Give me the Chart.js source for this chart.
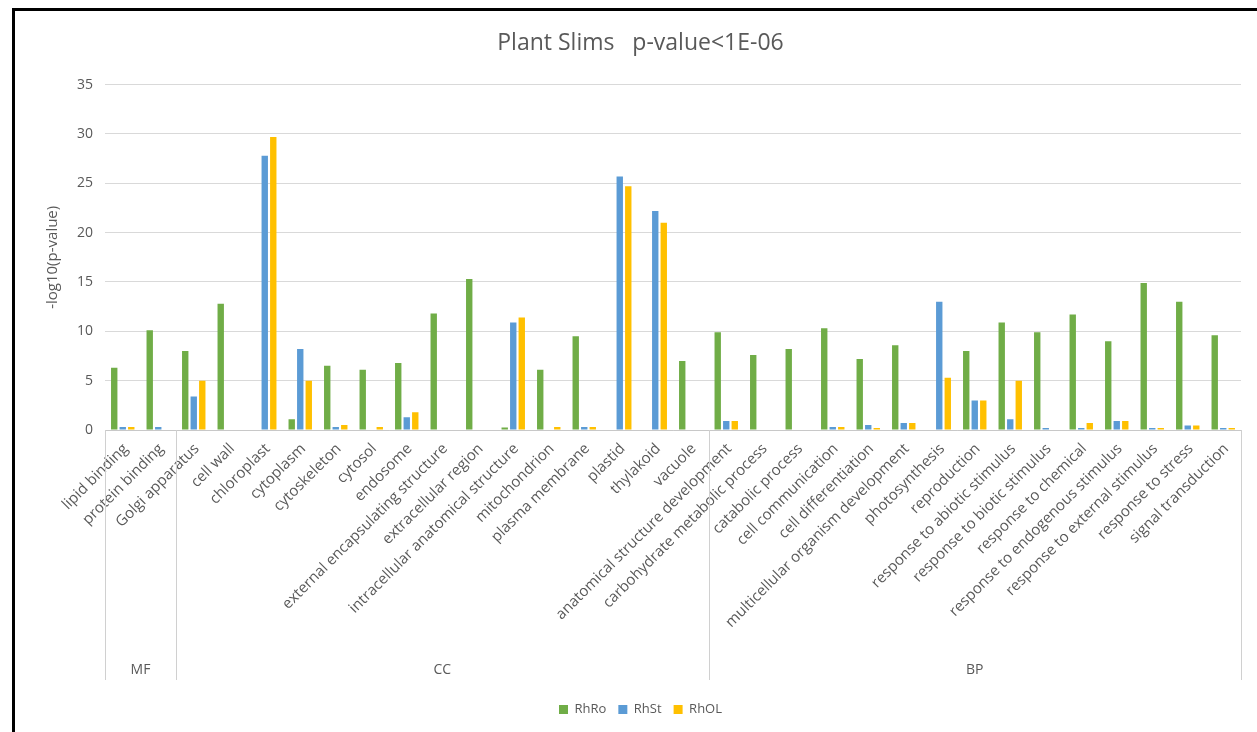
<!DOCTYPE html>
<html lang="en">
<head>
    <meta charset="UTF-8">
    <title>Plant Slims</title>
    <script src="https://cdn.jsdelivr.net/npm/chart.js"></script>
    <style>
        html, body { margin: 0; padding: 0; background: #fff; overflow: hidden; }
        #frame { position: absolute; left: 12px; top: 8px; width: 1300px; height: 800px;
                 border-left: 3px solid #000; border-top: 3px solid #000; }
        #plantChart { position: absolute; left: 0; top: 0; }
    </style>
</head>
<body>
    <div id="frame"></div>
    <canvas id="plantChart" width="1257" height="732"></canvas>

    <script>
        // GO slim terms, in the order they appear on the axis
        const categories = [
            'lipid binding', 'protein binding',
            'Golgi apparatus', 'cell wall', 'chloroplast', 'cytoplasm', 'cytoskeleton', 'cytosol',
            'endosome', 'external encapsulating structure', 'extracellular region',
            'intracellular anatomical structure', 'mitochondrion', 'plasma membrane', 'plastid',
            'thylakoid', 'vacuole',
            'anatomical structure development', 'carbohydrate metabolic process', 'catabolic process',
            'cell communication', 'cell differentiation', 'multicellular organism development',
            'photosynthesis', 'reproduction', 'response to abiotic stimulus',
            'response to biotic stimulus', 'response to chemical', 'response to endogenous stimulus',
            'response to external stimulus', 'response to stress', 'signal transduction'
        ];

        // ontology groups: name + how many terms belong to it
        const groupNames = ['MF', 'CC', 'BP'];
        const groupSizes = [2, 15, 15];

        const rhRo = [6.3, 10.1, 8.0, 12.8, 0, 1.1, 6.5, 6.1, 6.8, 11.8, 15.3, 0.25, 6.1, 9.5, 0, 0, 7.0,
                      9.9, 7.6, 8.2, 10.3, 7.2, 8.6, 0, 8.0, 10.9, 9.9, 11.7, 9.0, 14.9, 13.0, 9.6];
        const rhSt = [0.3, 0.3, 3.4, 0, 27.8, 8.2, 0.3, 0, 1.3, 0, 0, 10.9, 0, 0.3, 25.7, 22.2, 0,
                      0.9, 0, 0, 0.3, 0.5, 0.7, 13.0, 3.0, 1.1, 0.2, 0.2, 0.9, 0.2, 0.45, 0.2];
        const rhOL = [0.3, 0, 5.0, 0, 29.7, 5.0, 0.5, 0.3, 1.8, 0, 0, 11.4, 0.3, 0.3, 24.7, 21.0, 0,
                      0.9, 0, 0, 0.3, 0.2, 0.7, 5.3, 3.0, 5.0, 0, 0.7, 0.9, 0.2, 0.45, 0.2];

        const yTicks = [0, 5, 10, 15, 20, 25, 30, 35];

        const textColor = '#595959';
        const fontFamily = '"Open Sans", Lato, sans-serif';

        // draws the MF / CC / BP separators and labels under the category labels
        const groupAxis = {
            id: 'groupAxis',
            afterDraw(chart) {
                const x = chart.scales.x;
                const ctx = chart.ctx;
                const step = (x.right - x.left) / categories.length;
                const top = x.top;
                const bottom = x.bottom - 11;

                ctx.save();
                ctx.strokeStyle = '#d0d0d0';
                ctx.lineWidth = 1;
                ctx.fillStyle = textColor;
                ctx.font = '14px ' + fontFamily;
                ctx.textAlign = 'center';
                ctx.textBaseline = 'middle';

                let start = 0;
                const edges = [x.getPixelForTick(0) - step / 2];
                groupSizes.forEach((size, i) => {
                    const left = x.getPixelForTick(start) - step / 2;
                    const right = x.getPixelForTick(start + size - 1) + step / 2;
                    edges.push(right);
                    ctx.fillText(groupNames[i], (left + right) / 2, bottom - 10);
                    start += size;
                });
                edges.forEach(px => {
                    ctx.beginPath();
                    ctx.moveTo(Math.round(px) + 0.5, top);
                    ctx.lineTo(Math.round(px) + 0.5, bottom);
                    ctx.stroke();
                });
                ctx.restore();
            }
        };

        new Chart(document.getElementById('plantChart'), {
            type: 'bar',
            data: {
                labels: categories,
                datasets: [
                    { label: 'RhRo', data: rhRo, backgroundColor: '#70AD47' },
                    { label: 'RhSt', data: rhSt, backgroundColor: '#5B9BD5' },
                    { label: 'RhOL', data: rhOL, backgroundColor: '#FFC000' }
                ]
            },
            options: {
                responsive: false,
                animation: false,
                categoryPercentage: 0.72,
                barPercentage: 0.75,
                layout: { padding: { left: 40, right: 16, top: 0, bottom: 6 } },
                plugins: {
                    title: {
                        display: true,
                        text: 'Plant Slims   p-value<1E-06',
                        color: textColor,
                        font: { family: fontFamily, size: 23, weight: 'normal' },
                        padding: { top: 30, bottom: 27 }
                    },
                    legend: {
                        position: 'bottom',
                        labels: {
                            color: textColor,
                            font: { family: fontFamily, size: 13 },
                            boxWidth: 9,
                            boxHeight: 9,
                            padding: 12
                        }
                    },
                    tooltip: { enabled: false }
                },
                scales: {
                    x: {
                        grid: { display: false },
                        border: { color: '#c8c8c8' },
                        ticks: {
                            color: textColor,
                            font: { family: fontFamily, size: 15 },
                            minRotation: 45,
                            maxRotation: 45,
                            autoSkip: false,
                            padding: 2,
                            labelOffset: 3
                        },
                        afterFit(scale) { scale.height = 261; }
                    },
                    y: {
                        min: 0,
                        max: 35,
                        afterBuildTicks(scale) { scale.ticks = yTicks.map(v => ({ value: v })); },
                        grid: { color: '#d9d9d9', drawTicks: false },
                        border: { display: false },
                        ticks: {
                            color: textColor,
                            font: { family: fontFamily, size: 14 },
                            padding: 12
                        },
                        title: {
                            display: true,
                            text: '-log10(p-value)',
                            color: textColor,
                            font: { family: fontFamily, size: 15 },
                            padding: 4
                        },
                        afterFit(scale) { scale.width = 65; }
                    }
                }
            },
            plugins: [groupAxis]
        });
    </script>
</body>
</html>
